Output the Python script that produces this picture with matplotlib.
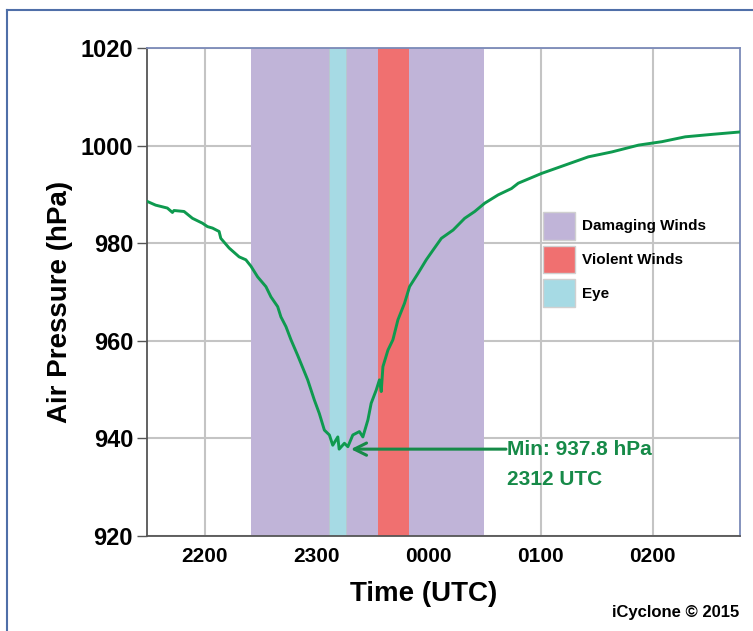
import matplotlib.pyplot as plt
from matplotlib.patches import Patch
from matplotlib.lines import Line2D

plt.rcParams['font.family'] = ['Liberation Sans', 'DejaVu Sans']
plt.rcParams['font.weight'] = 'bold'

# time in decimal hours UTC (past midnight continues as 24+)
hours = [21.492, 21.561, 21.666, 21.711, 21.725, 21.815, 21.890, 21.979, 22.024, 22.069,
         22.128, 22.143, 22.218, 22.307, 22.367, 22.412, 22.472, 22.546, 22.591, 22.651,
         22.680, 22.725, 22.770, 22.830, 22.919, 22.978, 23.023, 23.068, 23.113, 23.143,
         23.188, 23.200, 23.247, 23.278, 23.322, 23.381, 23.412, 23.457, 23.486, 23.531,
         23.560, 23.576, 23.591, 23.636, 23.680, 23.725, 23.784, 23.829, 23.904, 23.978,
         24.039, 24.113, 24.218, 24.321, 24.411, 24.500, 24.620, 24.739, 24.800, 25.008,
         25.217, 25.426, 25.635, 25.874, 26.082, 26.291, 26.530, 26.783]
pressure = [988.5, 987.8, 987.2, 986.3, 986.7, 986.5, 985.1, 984.1, 983.4, 983.1,
            982.4, 981.0, 979.0, 977.2, 976.6, 975.3, 973.1, 971.1, 969.0, 967.0,
            964.9, 962.9, 960.2, 957.0, 952.0, 947.9, 945.1, 941.7, 940.7, 938.6,
            940.3, 937.8, 939.0, 938.3, 940.7, 941.4, 940.3, 943.8, 947.2, 949.9,
            952.0, 949.6, 954.7, 958.1, 960.2, 964.3, 967.7, 971.1, 973.8, 976.6,
            978.6, 981.0, 982.7, 985.1, 986.5, 988.2, 989.9, 991.2, 992.3, 994.3,
            996.0, 997.7, 998.7, 1000.1, 1000.8, 1001.8, 1002.3, 1002.8]

damaging = (22.41, 24.49)
eye = (23.11, 23.26)
violent = (23.55, 23.82)

xticks = [22, 23, 24, 25, 26]
xtick_labels = ['2200', '2300', '0000', '0100', '0200']
yticks = [920, 940, 960, 980, 1000, 1020]

min_time = 23.2
min_value = 937.8

c_damaging = '#c0b4d8'
c_violent = '#f07070'
c_eye = '#a6dae4'
c_line = '#0e9a4f'
c_text = '#168a48'

fig = plt.figure(figsize=(7.53, 6.31), dpi=100)
ax = fig.add_axes([147 / 753, 1 - 536 / 631, 593 / 753, 488 / 631])

ax.set_axisbelow(True)
ax.grid(True, color='#c4c4c4', linewidth=1.5)

ax.axvspan(*damaging, color=c_damaging, lw=0)
ax.axvspan(*eye, facecolor=c_eye, edgecolor='#b8c8cc', lw=0.6)
ax.axvspan(*violent, color=c_violent, lw=0)

ax.plot(hours, pressure, color=c_line, lw=2.1, zorder=3)

ax.set_xlim(21.484, 26.78)
ax.set_ylim(920, 1020)
ax.set_xticks(xticks)
ax.set_xticklabels(xtick_labels)
ax.set_yticks(yticks)
ax.tick_params(axis='x', length=0, pad=8, labelsize=15)
ax.tick_params(axis='y', length=7, width=1, color='#555555', pad=3, labelsize=17)

for s in ['left', 'bottom']:
    ax.spines[s].set_color('#555555')
    ax.spines[s].set_linewidth(1.3)
for s in ['top', 'right']:
    ax.spines[s].set_color('#7b8ab8')
    ax.spines[s].set_linewidth(1.3)

ax.set_xlabel('Time (UTC)', fontsize=20, fontweight='bold')
ax.set_ylabel('Air Pressure (hPa)', fontsize=20, fontweight='bold', va='center')
ax.xaxis.set_label_coords(0.467, -0.092)
ax.yaxis.set_label_coords(-0.147, 0.48)

# minimum annotation
ax.annotate('', xy=(min_time + 0.105, min_value), xytext=(24.69, min_value),
            arrowprops=dict(arrowstyle='->', color=c_text, lw=2.2,
                            mutation_scale=22, shrinkA=0, shrinkB=0), zorder=4)
ax.text(24.70, min_value, 'Min: 937.8 hPa', color=c_text, fontsize=15,
        ha='left', va='center')
ax.text(24.70, min_value - 6.2, '2312 UTC', color=c_text, fontsize=15,
        ha='left', va='center')

handles = [Patch(facecolor=c_damaging, edgecolor='#d0d0d0', label='Damaging Winds'),
           Patch(facecolor=c_violent, edgecolor='#d0d0d0', label='Violent Winds'),
           Patch(facecolor=c_eye, edgecolor='#d0d0d0', label='Eye')]
fig.legend(handles=handles, loc='upper left', bbox_to_anchor=(543 / 753, 1 - 212 / 631),
           frameon=False, fontsize=11, handlelength=2.1, handleheight=2.4,
           labelspacing=0.4, handletextpad=0.45, borderpad=0, borderaxespad=0)

fig.text(739 / 753, 1 - 612 / 631, 'iCyclone © 2015', fontsize=12,
         ha='right', va='center')

# outer frame lines
fig.add_artist(Line2D([7 / 753, 7 / 753], [0, 1 - 10 / 631], color='#4f6fa8',
                      lw=1.5, transform=fig.transFigure))
fig.add_artist(Line2D([7 / 753, 1], [1 - 10 / 631, 1 - 10 / 631], color='#4f6fa8',
                      lw=1.5, transform=fig.transFigure))

fig.savefig('out.png', dpi=100)
